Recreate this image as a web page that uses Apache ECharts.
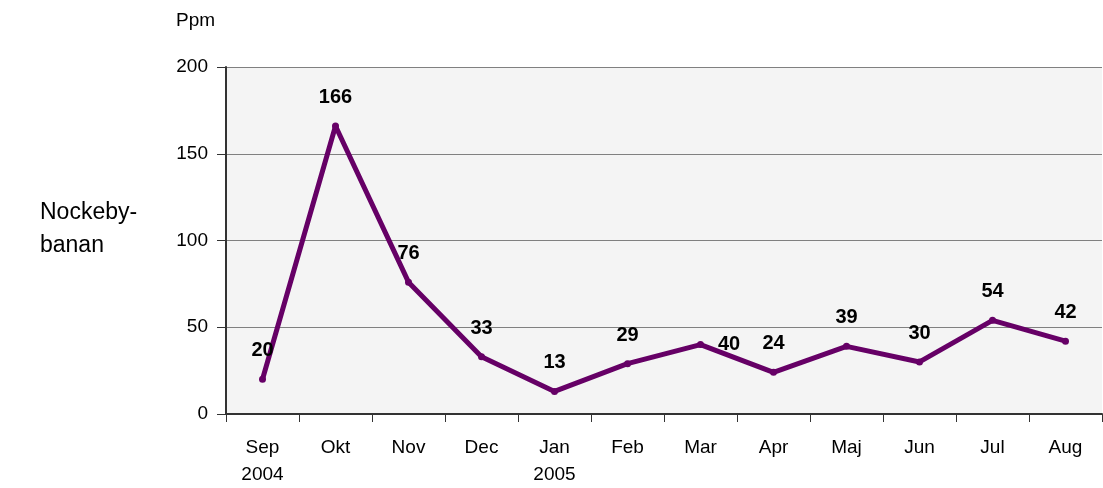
<!DOCTYPE html>
<html><head><meta charset="utf-8">
<script src="https://cdn.jsdelivr.net/npm/echarts@6/dist/echarts.min.js"></script>
<style>html,body{margin:0;padding:0;background:#fff}#c{width:1103px;height:488px}</style>
</head><body><div id="c"></div>
<script>
const categories = ["Sep\n2004","Okt","Nov","Dec","Jan\n2005","Feb","Mar","Apr","Maj","Jun","Jul","Aug"];
const values = [20,166,76,33,13,29,40,24,39,30,54,42];
const yTicks = [0,50,100,150,200];
const unitLabel = "Ppm";
const sideLabel = "Nockeby-\nbanan";

const chart = echarts.init(document.getElementById('c'));
const font = 'Arial, "Liberation Sans", sans-serif';
chart.setOption({
  animation:false,
  backgroundColor:'#fff',
  grid:{left:226,right:1,top:67,bottom:74,show:true,backgroundColor:'#f4f4f4',borderWidth:0},
  graphic:[
    {type:'text',left:176,top:11,style:{text:unitLabel,font:'19px '+font,fill:'#000'}},
    {type:'text',left:40,top:196,style:{text:sideLabel,font:'23px '+font,fill:'#000',lineHeight:33}}
  ],
  xAxis:{type:'category',data:categories,boundaryGap:true,
    axisLine:{lineStyle:{color:'#333',width:2}},
    axisTick:{show:true,length:8,alignWithLabel:false,lineStyle:{color:'#333',width:1}},
    axisLabel:{color:'#000',fontSize:19,fontFamily:font,margin:20,lineHeight:27,interval:0}
  },
  yAxis:{type:'value',min:0,max:200,interval:50,
    axisLine:{show:true,lineStyle:{color:'#333',width:2}},
    axisTick:{show:true,length:9,lineStyle:{color:'#333'}},
    axisLabel:{color:'#000',fontSize:19,fontFamily:font,margin:18,
      formatter:v=>yTicks.includes(v)?String(v):''},
    splitLine:{show:true,lineStyle:{color:'#808080',width:1}}
  },
  series:[{type:'line',data:values.map((v,i)=>i===6?{value:v,label:{position:'right',distance:14}}:v),
    lineStyle:{color:'#660066',width:5},itemStyle:{color:'#660066'},
    symbol:'circle',symbolSize:7,
    label:{show:true,position:'top',distance:15,color:'#000',fontSize:20,fontWeight:'bold',fontFamily:font}
  }]
});
</script></body></html>
